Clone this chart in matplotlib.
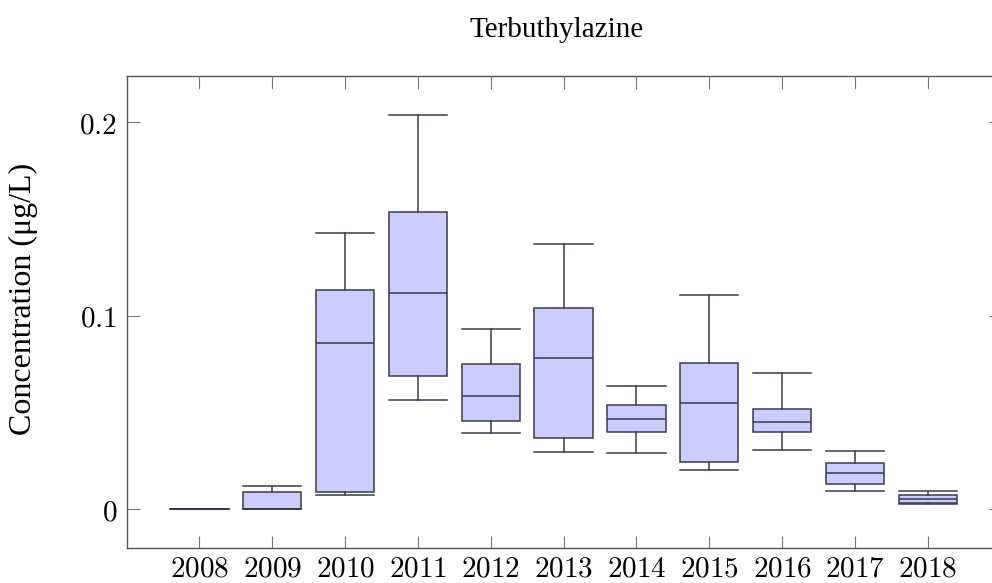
import matplotlib
matplotlib.use("Agg")
import matplotlib.pyplot as plt

# Yearly terbuthylazine concentration summaries (µg/L)
years = [2008, 2009, 2010, 2011, 2012, 2013, 2014, 2015, 2016, 2017, 2018]
whisker_low = [0.0, 0.0, 0.0075, 0.0565, 0.0393, 0.0298, 0.0293, 0.0205, 0.0308, 0.0095, 0.0027]
q1 = [0.0, 0.0, 0.0089, 0.0689, 0.0455, 0.0367, 0.0398, 0.0246, 0.0398, 0.0132, 0.0031]
median = [0.0, 0.0, 0.0858, 0.1119, 0.0585, 0.0784, 0.0467, 0.0548, 0.0450, 0.0186, 0.0053]
q3 = [0.0, 0.0089, 0.1133, 0.1535, 0.0752, 0.1039, 0.0537, 0.0758, 0.0517, 0.0241, 0.0074]
whisker_high = [0.0, 0.0122, 0.1430, 0.2036, 0.0930, 0.1373, 0.0637, 0.1106, 0.0706, 0.0303, 0.0095]

y_ticks = [0, 0.1, 0.2]

plt.rcParams['mathtext.fontset'] = 'cm'

fig = plt.figure(figsize=(9.92, 5.83), dpi=100)
# the right frame runs just past the canvas edge
ax = fig.add_axes([0.1277, 0.0600, 0.8809, 0.8101])

stats = []
for i, yr in enumerate(years):
    stats.append({
        'label': str(yr),
        'whislo': whisker_low[i],
        'q1': q1[i],
        'med': median[i],
        'q3': q3[i],
        'whishi': whisker_high[i],
        'fliers': [],
    })

edge = '#3a3a4a'
ax.bxp(stats, positions=years, widths=0.8, capwidths=0.8,
       patch_artist=True, showfliers=False,
       boxprops=dict(facecolor='#ccccff', edgecolor=edge, linewidth=1.1),
       medianprops=dict(color=edge, linewidth=1.1),
       whiskerprops=dict(color=edge, linewidth=1.1),
       capprops=dict(color=edge, linewidth=1.1))

ax.set_xlim(2007, 2019)
ax.set_ylim(-0.0200, 0.2241)

ax.set_xticks(years, labels=[f'${y}$' for y in years])
ax.set_yticks(y_ticks, labels=[f'${t:g}$' for t in y_ticks])
ax.tick_params(axis='both', direction='in', length=9, width=0.8, color='#777777',
               top=True, right=True, labelsize=21)
ax.tick_params(axis='x', pad=4.5)
ax.tick_params(axis='y', pad=7)

for s in ax.spines.values():
    s.set_color('#555555')
    s.set_linewidth(1.0)

ax.set_ylabel('Concentration (μg/L)', family='Liberation Serif', fontsize=23)
ax.yaxis.set_label_coords(-0.1015, 0.527)
fig.text(0.5615, 0.9485, 'Terbuthylazine', family='Liberation Serif', fontsize=21,
         ha='center', va='center')

fig.savefig('out.png', dpi=100)
